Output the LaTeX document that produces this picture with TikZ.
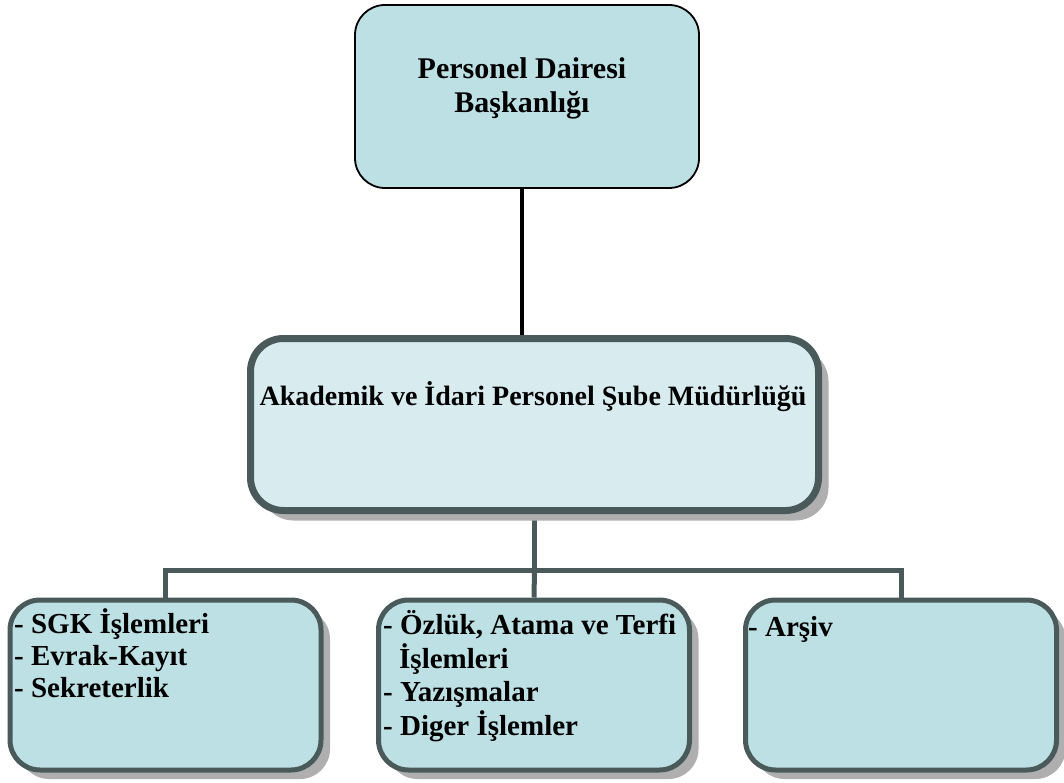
\documentclass[tikz,border=0pt]{standalone}
\usepackage{fontspec}
\setmainfont{Liberation Serif}
\usetikzlibrary{shadows,backgrounds}
\definecolor{boxfill}{RGB}{188,224,228}
\definecolor{midfill}{RGB}{216,236,239}
\definecolor{edgecol}{RGB}{74,89,90}
\definecolor{shadowcol}{RGB}{175,175,175}
\begin{document}
\begin{tikzpicture}[x=1pt,y=-1pt,
  bigtext/.style={font=\fontsize{29}{34}\selectfont\bfseries, inner sep=0pt},
  topbox/.style={draw=black, line width=1.8pt, fill=boxfill, rounded corners=30pt,
    minimum width=344pt, minimum height=183pt, inner sep=0pt},
  midbox/.style={draw=edgecol, line width=7pt, fill=midfill, rounded corners=33pt,
    minimum width=568pt, minimum height=172pt, inner sep=0pt,
    drop shadow={shadow xshift=10pt, shadow yshift=-10pt, fill=shadowcol, opacity=1}},
  subbox/.style={draw=edgecol, line width=5pt, fill=boxfill, rounded corners=30pt,
    minimum width=311pt, minimum height=170pt, inner sep=0pt,
    drop shadow={shadow xshift=9pt, shadow yshift=-9pt, fill=shadowcol, opacity=1}},
  conn/.style={draw=edgecol, line width=5pt},
  topconn/.style={draw=black, line width=4pt}
]
\useasboundingbox (0,0) rectangle (1064,783);

\node[topbox] (top) at (527,96.5) {};
\node[bigtext, align=center, font=\fontsize{30}{34}\selectfont\bfseries] (toptext) at (522,88) {Personel Dairesi\\Başkanlığı};

\node[midbox] (mid) at (534.5,424.5) {};
\node[bigtext, font=\fontsize{28}{32}\selectfont\bfseries] (midtext) at (533,397) {Akademik ve İdari Personel Şube Müdürlüğü};

\node[subbox] (sgk) at (165.5,685) {};
\node[subbox] (ozluk) at (534,685) {};
\node[subbox] (arsiv) at (901,685) {};

\node[bigtext, anchor=base west, font=\fontsize{29}{32}\selectfont\bfseries] (sgktext) at (14,633)
  {\begin{tabular}[t]{@{}l@{}}- SGK İşlemleri\\- Evrak-Kayıt\\- Sekreterlik\end{tabular}};
\node[bigtext, anchor=base west, font=\fontsize{29}{32.5}\selectfont\bfseries] (ozluktext) at (383,634)
  {\begin{tabular}[t]{@{}l@{}}- Özlük, Atama ve Terfi\\\hspace*{16pt}İşlemleri\\- Yazışmalar\\- Diger İşlemler\end{tabular}};
\node[bigtext, anchor=base west] (arsivtext) at (748,636) {- Arşiv};

\coordinate (bus) at (534.5,570);
\begin{scope}[on background layer]
  \draw[topconn] ([xshift=-5pt]top.south) -- ([xshift=-5pt]top.south |- mid.north);
  \draw[conn] (mid.south) -- (bus);
  \draw[conn] (sgk.north) |- (bus) -| (arsiv.north);
  \draw[conn] (bus) -- (ozluk.north);
\end{scope}
\end{tikzpicture}
\end{document}
